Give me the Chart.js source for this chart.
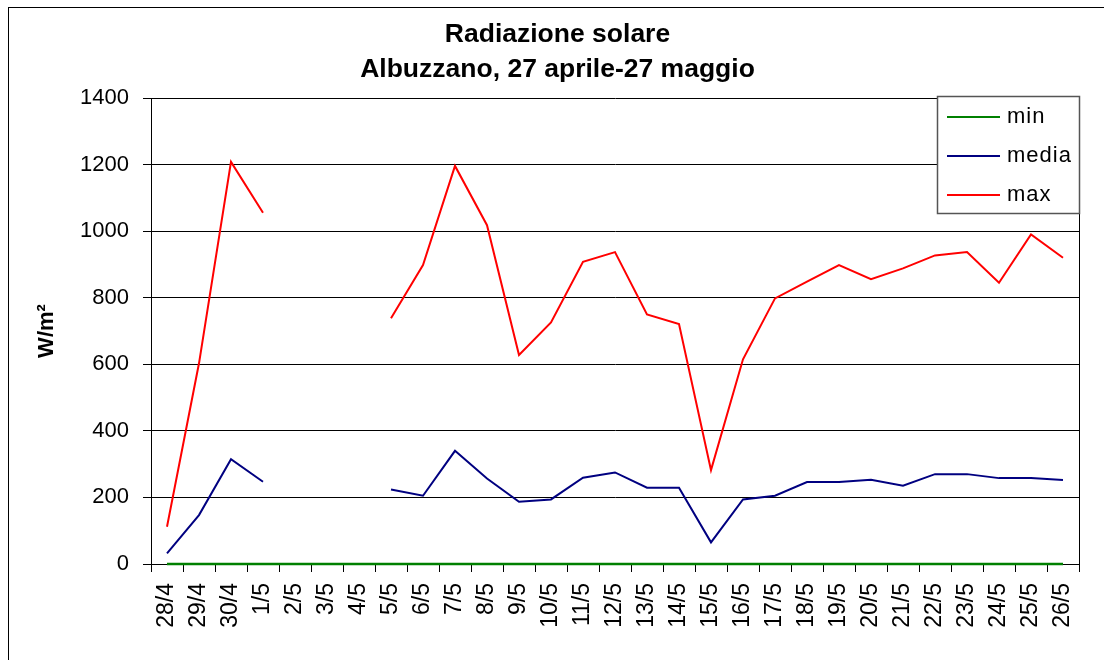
<!DOCTYPE html>
<html>
<head>
<meta charset="utf-8">
<script src="https://cdn.jsdelivr.net/npm/chart.js@4/dist/chart.umd.min.js"></script>
<style>
  body { margin: 0; background: #fff; }
  #wrap { width: 1104px; height: 660px; }
</style>
</head>
<body>
<div id="wrap"><canvas id="chart" width="1104" height="660"></canvas></div>
<script>
  // data
  const days = ["28/4", "29/4", "30/4", "1/5", "2/5", "3/5", "4/5", "5/5", "6/5", "7/5",
    "8/5", "9/5", "10/5", "11/5", "12/5", "13/5", "14/5", "15/5", "16/5", "17/5",
    "18/5", "19/5", "20/5", "21/5", "22/5", "23/5", "24/5", "25/5", "26/5"];
  const minVals = [0, 0, 0, 0, 0, 0, 0, 0, 0, 0, 0, 0, 0, 0, 0, 0, 0, 0, 0, 0,
    0, 0, 0, 0, 0, 0, 0, 0, 0];
  const mediaVals = [32, 147, 315, 247, null, null, null, 224, 205, 340,
    257, 187, 194, 259, 275, 229, 229, 65, 194, 205,
    246, 246, 253, 235, 270, 270, 258, 258, 252];
  const maxVals = [112, 603, 1208, 1055, null, null, null, 738, 898, 1196,
    1018, 628, 726, 908, 937, 750, 721, 282, 615, 798,
    848, 898, 856, 888, 927, 937, 845, 990, 920];
  const yTicks = [0, 200, 400, 600, 800, 1000, 1200, 1400];

  const FONT = "'Liberation Sans', Arial, sans-serif";

  // outer frame + plot box + legend
  const framePlugin = {
    id: "frame",
    afterDraw(chart) {
      const ctx = chart.ctx;
      const a = chart.chartArea;
      ctx.save();
      ctx.strokeStyle = "#000";
      ctx.lineWidth = 1;
      ctx.strokeRect(8.5, 7.5, 1110, 670);
      ctx.beginPath();
      ctx.moveTo(Math.round(a.right) + 0.5, a.top);
      ctx.lineTo(Math.round(a.right) + 0.5, a.bottom);
      ctx.stroke();

      // legend box
      const bx = a.right - 142, by = a.top - 2, bw = 142, bh = 117;
      ctx.fillStyle = "#fff";
      ctx.fillRect(bx, by, bw, bh);
      ctx.strokeStyle = "#555";
      ctx.lineWidth = 1.5;
      ctx.strokeRect(bx + 0.5, by + 0.5, bw, bh);
      ctx.font = "22px " + FONT;
      ctx.textBaseline = "middle";
      ctx.textAlign = "left";
      if ("letterSpacing" in ctx) ctx.letterSpacing = "1px";
      chart.data.datasets.forEach((ds, i) => {
        const y = by + 21 + i * 39;
        ctx.strokeStyle = ds.borderColor;
        ctx.lineWidth = 2;
        ctx.beginPath();
        ctx.moveTo(bx + 10, y);
        ctx.lineTo(bx + 63, y);
        ctx.stroke();
        ctx.fillStyle = "#000";
        ctx.fillText(ds.label, bx + 70, y);
      });
      ctx.restore();
    }
  };

  new Chart(document.getElementById("chart").getContext("2d"), {
    type: "line",
    data: {
      labels: days,
      datasets: [
        { label: "min", data: minVals, borderColor: "#008000", borderWidth: 2.5, clip: false },
        { label: "media", data: mediaVals, borderColor: "#000080", borderWidth: 2 },
        { label: "max", data: maxVals, borderColor: "#ff0000", borderWidth: 2 },
      ],
    },
    options: {
      responsive: false,
      animation: false,
      spanGaps: false,
      elements: { point: { radius: 0 }, line: { tension: 0 } },
      layout: { padding: { left: 36, right: 25, top: 0, bottom: 0 } },
      plugins: {
        legend: { display: false },
        tooltip: { enabled: false },
        title: {
          display: true,
          text: ["Radiazione solare", "Albuzzano, 27 aprile-27 maggio"],
          color: "#000",
          font: { family: FONT, size: 26.5, weight: "bold", lineHeight: 35 / 26.5 },
          padding: { top: 17, bottom: 11 },
        },
      },
      scales: {
        x: {
          offset: true,
          afterFit(scale) { scale.height = 96; },
          grid: {
            offset: true,
            drawOnChartArea: false,
            color: "#000",
            tickLength: 8,
          },
          border: { color: "#000" },
          ticks: {
            color: "#000",
            autoSkip: false,
            maxRotation: 90,
            minRotation: 90,
            padding: 11,
            font: { family: FONT, size: 23 },
          },
        },
        y: {
          min: 0,
          max: 1400,
          afterFit(scale) { scale.width = 115; },
          afterBuildTicks(scale) { scale.ticks = yTicks.map(v => ({ value: v })); },
          grid: { color: "#000", tickLength: 8 },
          border: { color: "#000" },
          ticks: {
            color: "#000",
            padding: 14,
            font: { family: FONT, size: 22 },
            callback: v => String(v),
          },
          title: {
            display: true,
            text: "W/m²",
            color: "#000",
            font: { family: FONT, size: 22, weight: "bold", lineHeight: 1 },
            padding: { top: 0, bottom: 0 },
          },
        },
      },
    },
    plugins: [framePlugin],
  });
</script>
</body>
</html>
